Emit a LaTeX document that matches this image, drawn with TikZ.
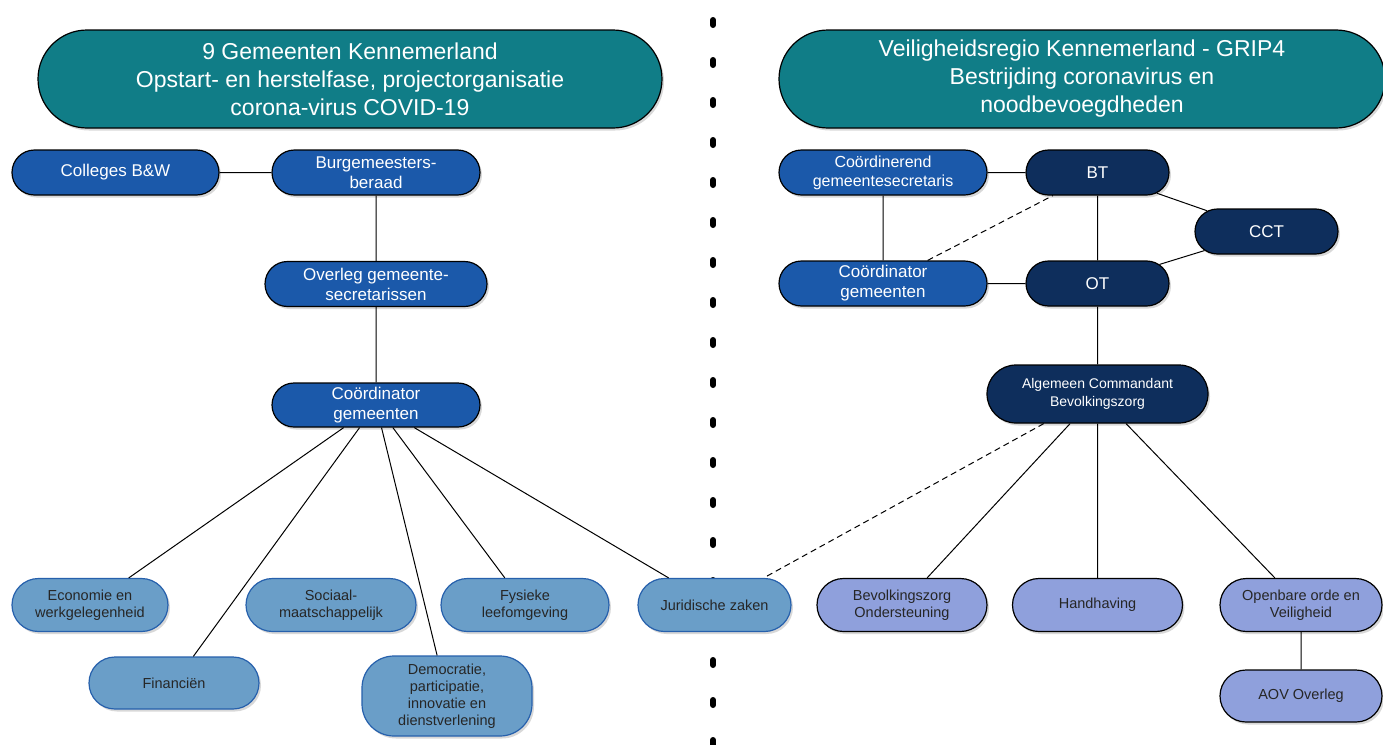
\documentclass[tikz,border=0pt]{standalone}
\usepackage{fontspec}
\setmainfont{Liberation Sans}
\usetikzlibrary{shapes.misc,shadows}
\definecolor{teal1}{RGB}{16,125,135}
\definecolor{blueA}{RGB}{27,89,170}
\definecolor{navy}{RGB}{14,46,92}
\definecolor{lightb}{RGB}{106,158,200}
\definecolor{lightbd}{RGB}{38,96,172}
\definecolor{lav}{RGB}{143,160,220}
\begin{document}
\begin{tikzpicture}[x=1pt,y=-1pt,
 pill/.style={rounded rectangle, draw=black, line width=1.2pt, inner sep=0pt, align=center,
   drop shadow={shadow xshift=2pt, shadow yshift=-2.5pt, opacity=0.3}},
 sz/.style 2 args={minimum width=#1pt, minimum height=#2pt},
 headbox/.style={pill, fill=teal1, text=white, font=\fontsize{23}{28}\selectfont},
 upper/.style={pill, fill=blueA, text=white, font=\fontsize{17}{20}\selectfont},
 navybox/.style={pill, fill=navy, text=white, font=\fontsize{17}{20}\selectfont},
 lower/.style={pill, fill=lightb, draw=lightbd, text=black!85, font=\fontsize{14.5}{17}\selectfont},
 lavbox/.style={pill, fill=lav, text=black!85, font=\fontsize{14.5}{17}\selectfont},
 link/.style={line width=1pt, black},
 dlink/.style={link, dash pattern=on 6pt off 4pt}
]
\path[use as bounding box, fill=white] (0,0) rectangle (1383,744);
% divider
\draw[line width=6pt, line cap=round, dash pattern=on 5pt off 35pt] (713,20) -- (713,760);

% headers
\node[headbox, sz={624}{98}] (topL) at (350,79) {9 Gemeenten Kennemerland\\Opstart- en herstelfase, projectorganisatie\\corona-virus COVID-19};
\node[headbox, sz={606}{98}] (topR) at (1082,79) {Veiligheidsregio Kennemerland - GRIP4\\Bestrijding coronavirus en\\noodbevoegdheden};

% left
\node[upper, sz={207}{45}] (colleges) at (115.5,172.5) {Colleges B\&W};
\node[upper, sz={208}{45}] (burg) at (376,172.5) {Burgemeesters-\\beraad};
\node[upper, sz={222}{45}] (overleg) at (376,284) {Overleg gemeente-\\secretarissen};
\node[upper, sz={208}{44}] (coordL) at (376,405) {Coördinator\\gemeenten};

\node[lower, sz={156}{53}] (econ) at (90,605) {Economie en\\werkgelegenheid};
\node[lower, sz={170}{52}] (fin) at (174,683) {Financiën};
\node[lower, sz={170}{53}] (soc) at (331,605) {Sociaal-\\maatschappelijk};
\node[lower, rectangle, rounded corners=32pt, sz={170}{80}] (dem) at (447,696) {Democratie,\\participatie,\\innovatie en\\dienstverlening};
\node[lower, sz={168}{53}] (fys) at (525,605) {Fysieke\\leefomgeving};
\node[lower, sz={153}{53}] (jur) at (714.5,605) {Juridische zaken};

% right
\node[upper, sz={208}{45}, font=\fontsize{16}{19}\selectfont] (coordin) at (883,172.5) {Coördinerend\\gemeentesecretaris};
\node[navybox, sz={143}{45}] (bt) at (1097.5,172.5) {BT};
\node[navybox, sz={143}{45}] (cct) at (1266.5,231.5) {CCT};
\node[upper, sz={208}{45}] (coordR) at (883,283.5) {Coördinator\\gemeenten};
\node[navybox, sz={143}{45}] (ot) at (1097.5,283.5) {OT};
\node[navybox, sz={221}{58}, font=\fontsize{14}{18}\selectfont] (alg) at (1097.5,394) {Algemeen Commandant\\Bevolkingszorg};

\node[lavbox, sz={170}{53}] (bev) at (902,605) {Bevolkingszorg\\Ondersteuning};
\node[lavbox, sz={170}{53}] (hand) at (1097.5,605) {Handhaving};
\node[lavbox, sz={162}{53}] (open) at (1301,605) {Openbare orde en\\Veiligheid};
\node[lavbox, sz={162}{52}] (aov) at (1301,696) {AOV Overleg};

% connectors left
\draw[link] (colleges) -- (burg);
\draw[link] (burg) -- (overleg);
\draw[link] (overleg) -- (coordL);
\foreach \t in {econ,fin,dem,fys,jur} \draw[link] (coordL) -- (\t);

% connectors right
\draw[link] (coordin) -- (bt);
\draw[link] (coordin) -- (coordR);
\draw[link] (coordR) -- (ot);
\draw[link] (bt) -- (ot);
\draw[link] (bt) -- (cct);
\draw[link] (ot) -- (cct);
\draw[dlink] (coordR) -- (bt);
\draw[link] (ot) -- (alg);
\foreach \t in {bev,hand,open} \draw[link] (alg) -- (\t);
\draw[dlink] (alg) -- (jur);
\draw[link] (open) -- (aov);
\end{tikzpicture}
\end{document}
